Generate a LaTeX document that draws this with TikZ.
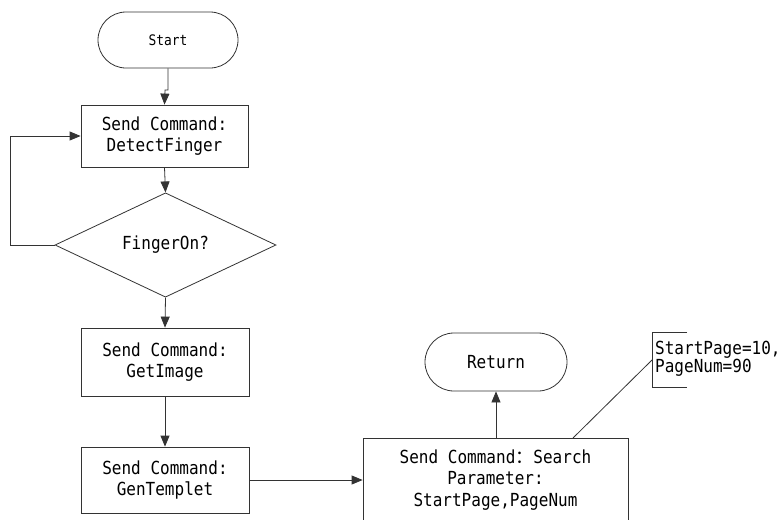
\documentclass[tikz,border=0pt]{standalone}
\usepackage{fontspec}
\usetikzlibrary{shapes.geometric,arrows.meta}
\newfontfamily\mainf[FakeStretch=0.89]{DejaVu Sans Mono}
\newfontfamily\cjk{Noto Sans CJK SC}
\tikzset{
  ln/.style={draw=black!80, line width=0.8pt},
  arr/.style={ln, -{Triangle[length=11pt,width=9pt]}},
  txt/.style={font=\mainf\fontsize{18}{21.5}\selectfont, align=center, text=black},
  stepbox/.style={ln, txt, rectangle, inner sep=0pt},
  term/.style={ln, txt, rectangle, inner sep=0pt},
  decide/.style={ln, txt, diamond, inner sep=0pt},
}
\begin{document}
\begin{tikzpicture}[x=1pt,y=-1pt]
\clip (0,0) rectangle (780,520);
\useasboundingbox (0,0) rectangle (780,520);
\fill[white] (0,0) rectangle (780,520);

\node[term, minimum width=140pt, minimum height=56pt, rounded corners=28pt,
      font=\mainf\fontsize{14.5}{17}\selectfont] (start) at (168,40) {Start};
\node[stepbox, minimum width=167pt, minimum height=62pt] (df) at (164.5,136) {Send Command:\\DetectFinger};
\node[decide, minimum width=221pt, minimum height=83pt] (dia) at (165.5,245) {FingerOn?};
\node[stepbox, minimum width=168pt, minimum height=68pt] (gi) at (165,362) {Send Command:\\GetImage};
\node[stepbox, minimum width=168pt, minimum height=66pt] (gt) at (165,480) {Send Command:\\GenTemplet};
\node[stepbox, minimum width=265pt, minimum height=84pt] (search) at (495.5,480) {Send Command{\cjk ：}Search\\Parameter:\\StartPage,PageNum};
\node[term, minimum width=142pt, minimum height=58pt, rounded corners=29pt] (ret) at (496,362) {Return};
\node[txt, align=left, inner sep=0pt, anchor=west,
      font=\mainf\fontsize{18}{17}\selectfont] (note) at (655,359) {StartPage=10,\\PageNum=90};

\coordinate (notepin) at (652,360);
\coordinate (sp) at (573,438);

\draw[arr] (start.south) -- (168,90) -- (165,90) -- (df.north);
\draw[arr] (df.south) -- (dia.north);
\draw[arr] (dia.west) -- ++(-44,0) |- (df.west);
\draw[arr] (dia.south) -- (gi.north);
\draw[arr] (gi.south) -- (gt.north);
\draw[arr] (gt.east) -- (gt.east -| search.west);
\draw[arr] (ret.south |- search.north) -- (ret.south);
\draw[ln] (687,332) -- (652,332) -- (652,387) -- (687,387);
\draw[ln] (notepin) -- (sp);
\end{tikzpicture}
\end{document}
